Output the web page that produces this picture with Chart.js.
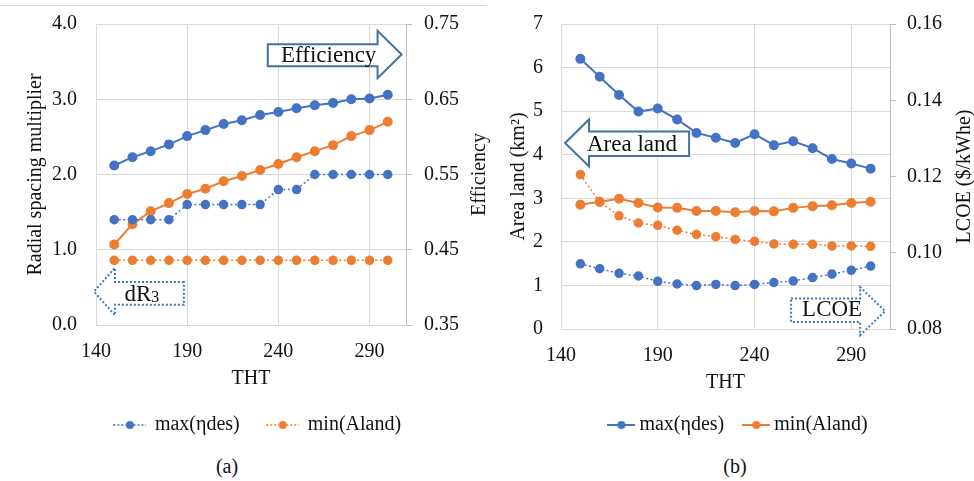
<!DOCTYPE html>
<html>
<head>
<meta charset="utf-8">
<script src="https://cdn.jsdelivr.net/npm/chart.js@4.4.0/dist/chart.umd.min.js"></script>
<style>
body{margin:0;background:#fff;width:974px;height:481px;overflow:hidden;position:relative;font-family:"Liberation Serif","Times New Roman",serif;}
#wa{position:absolute;left:0;top:0;}
#wb{position:absolute;left:492px;top:0;}
.cap{position:absolute;top:454px;width:60px;font-size:20px;line-height:24px;color:#111;text-align:center;}
#topline{position:absolute;left:0;top:5px;width:487px;height:1px;background:#d6d6d6;}
</style>
</head>
<body>
<div id="topline"></div>
<canvas id="wa" width="492" height="445"></canvas>
<canvas id="wb" width="482" height="445"></canvas>
<div class="cap" style="left:197px">(a)</div>
<div class="cap" style="left:705px">(b)</div>
<script>
// THT values shared by both panels
const tht = [150,160,170,180,190,200,210,220,230,240,250,260,270,280,290,300];
const thtTicks = [140,190,240,290];

// panel (a)
const spacingMaxEta = [1.4,1.4,1.4,1.4,1.6,1.6,1.6,1.6,1.6,1.8,1.8,2.0,2.0,2.0,2.0,2.0];
const spacingMinLand = [0.86,0.86,0.86,0.86,0.86,0.86,0.86,0.86,0.86,0.86,0.86,0.86,0.86,0.86,0.86,0.86];
const effMaxEta = [0.562,0.573,0.581,0.590,0.601,0.609,0.617,0.622,0.629,0.633,0.638,0.642,0.645,0.650,0.651,0.656];
const effMinLand = [0.457,0.484,0.501,0.512,0.524,0.531,0.541,0.548,0.556,0.564,0.573,0.581,0.589,0.601,0.609,0.620];
const spacingTicks = [0,1,2,3,4];
const effTicks = [0.35,0.45,0.55,0.65,0.75];

// panel (b)
const areaMaxEta = [6.20,5.79,5.37,4.99,5.06,4.81,4.50,4.39,4.27,4.47,4.22,4.31,4.15,3.90,3.80,3.68];
const areaMinLand = [2.85,2.92,2.99,2.89,2.79,2.78,2.71,2.71,2.68,2.71,2.70,2.78,2.82,2.84,2.89,2.92];
const lcoeMaxEta = [0.0971,0.0958,0.0946,0.0939,0.0925,0.0918,0.0914,0.0917,0.0914,0.0917,0.0922,0.0926,0.0935,0.0944,0.0954,0.0965];
const lcoeMinLand = [0.1205,0.1133,0.1097,0.1078,0.1072,0.1059,0.1048,0.1042,0.1035,0.1030,0.1023,0.1022,0.1022,0.1018,0.1018,0.1017];
const areaTicks = [0,1,2,3,4,5,6,7];
const lcoeTicks = [0.08,0.10,0.12,0.14,0.16];

const BLUE = '#4472C4', ORANGE = '#ED7D31';
const GRID = '#d9d9d9', AXIS = '#bfbfbf', TXT = '#111';
const FONT = {family:'"Liberation Serif","Times New Roman",serif', size:20};

function pts(vals){ return vals.map((v,i)=>({x:tht[i], y:v})); }

function series(label, vals, color, axis, dotted){
	return {
		label, data: pts(vals), yAxisID: axis,
		borderColor: color, backgroundColor: color,
		pointBackgroundColor: color, pointBorderColor: color,
		borderWidth: dotted ? 1.5 : 2, borderDash: dotted ? [2,2.5] : [],
		pointRadius: 4, pointHoverRadius: 4, tension: 0
	};
}

function legendImg(color, dotted, w){
	const c = document.createElement('canvas'); c.width = w; c.height = 12;
	const g = c.getContext('2d');
	g.strokeStyle = color; g.lineWidth = dotted ? 1.5 : 2;
	if(dotted) g.setLineDash([2,2]);
	g.beginPath(); g.moveTo(0,6); g.lineTo(w,6); g.stroke();
	g.setLineDash([]); g.fillStyle = color;
	g.beginPath(); g.arc(w/2,6,4,0,Math.PI*2); g.fill();
	return c;
}

// block arrows with a label, placed in axis units
const arrowPlugin = {
	id: 'blockArrows',
	afterDatasetsDraw(chart, args, opts){
		const {ctx, scales:{x, y}} = chart;
		(opts.items||[]).forEach(a=>{
			const X = v=>x.getPixelForValue(v), Y = v=>y.getPixelForValue(v);
			const x0 = X(a.x0), x1 = X(a.x1), xh = X(a.xh);
			const yt = Y(a.yt), yb = Y(a.yb), bt = Y(a.bt), bb = Y(a.bb), ym = (yt+yb)/2;
			ctx.save();
			ctx.beginPath();
			if(a.dir==='right'){
				ctx.moveTo(x0,bt); ctx.lineTo(xh,bt); ctx.lineTo(xh,yt); ctx.lineTo(x1,ym);
				ctx.lineTo(xh,yb); ctx.lineTo(xh,bb); ctx.lineTo(x0,bb);
			} else {
				ctx.moveTo(x1,bt); ctx.lineTo(xh,bt); ctx.lineTo(xh,yt); ctx.lineTo(x0,ym);
				ctx.lineTo(xh,yb); ctx.lineTo(xh,bb); ctx.lineTo(x1,bb);
			}
			ctx.closePath();
			ctx.fillStyle = '#fff'; ctx.fill();
			ctx.lineWidth = 2;
			ctx.strokeStyle = a.dotted ? '#3B78B8' : '#41719C';
			ctx.setLineDash(a.dotted ? [2,2] : []);
			ctx.stroke();
			ctx.setLineDash([]);
			ctx.fillStyle = TXT; ctx.textBaseline = 'middle';
			ctx.font = '23px "Liberation Serif"';
			const tx = X(a.tx), ty = Y(a.ty);
			if(a.sub){
				const w1 = ctx.measureText(a.text).width;
				ctx.font = '16px "Liberation Serif"';
				const w2 = ctx.measureText(a.sub).width;
				const left = tx - (w1+w2)/2;
				ctx.textAlign = 'left';
				ctx.font = '23px "Liberation Serif"'; ctx.fillText(a.text, left, ty);
				ctx.font = '16px "Liberation Serif"'; ctx.fillText(a.sub, left+w1, ty+3);
			} else {
				ctx.textAlign = 'center'; ctx.fillText(a.text, tx, ty);
			}
			ctx.restore();
		});
	}
};

// right axis title, reading bottom to top like the left one
const rightTitlePlugin = {
	id: 'rightTitle',
	afterDraw(chart, args, opts){
		const s = chart.scales.y1, area = chart.chartArea, ctx = chart.ctx;
		ctx.save();
		ctx.translate(s.right - opts.offset, (area.top + area.bottom)/2);
		ctx.rotate(-Math.PI/2);
		ctx.font = '20px "Liberation Serif"'; ctx.fillStyle = TXT;
		ctx.textAlign = 'center'; ctx.textBaseline = 'middle';
		ctx.fillText(opts.text, 0, 0);
		ctx.restore();
	}
};

function fixedTicks(list){ return s=>{ s.ticks = list.map(v=>({value:v})); }; }

function makeChart(id, o){
	const imgs = {};
	o.legendIdx.forEach(i=>{ imgs[i] = legendImg(o.datasets[i].borderColor, o.legendDotted, o.legendW); });
	return new Chart(document.getElementById(id), {
		type: 'line',
		data: { datasets: o.datasets },
		plugins: [arrowPlugin, rightTitlePlugin],
		options: {
			responsive: false, animation: false, devicePixelRatio: 1,
			layout: { padding: { left: o.padLeft, top: 24, right: 0, bottom: 0 } },
			plugins: {
				tooltip: { enabled: false },
				legend: {
					position: 'bottom',
					labels: {
						usePointStyle: true, pointStyleWidth: o.boxW, padding: o.legendPad,
						font: FONT, color: TXT,
						generateLabels: c=>Chart.defaults.plugins.legend.labels.generateLabels(c)
							.filter(it=>o.legendIdx.includes(it.datasetIndex))
							.map(it=>{ it.pointStyle = imgs[it.datasetIndex]; return it; })
					}
				},
				blockArrows: { items: o.arrows },
				rightTitle: { text: o.y1Title, offset: o.y1TitleOff }
			},
			scales: {
				x: {
					type: 'linear', min: 140, max: 310,
					afterBuildTicks: fixedTicks(thtTicks),
					afterFit: s=>{ s.height = 62; },
					grid: { color: GRID, drawTicks: false },
					border: { display: false },
					ticks: { padding: 15, font: FONT, color: TXT },
					title: { display: true, text: 'THT', font: FONT, color: TXT, padding: { top: 0, bottom: -4 } }
				},
				y: {
					position: 'left', min: o.yTicks[0], max: o.yTicks[o.yTicks.length-1],
					afterBuildTicks: fixedTicks(o.yTicks),
					afterFit: s=>{ s.width = o.yW; },
					grid: { color: GRID, drawTicks: true, tickLength: o.yTickLen, tickColor: 'rgba(0,0,0,0)' },
					border: { display: false },
					ticks: { padding: 3, font: FONT, color: TXT, callback: o.yFmt },
					title: { display: true, text: o.yTitle, font: FONT, color: TXT, padding: { top: 0, bottom: 0 } }
				},
				y1: {
					position: 'right', min: o.y1Ticks[0], max: o.y1Ticks[o.y1Ticks.length-1],
					afterBuildTicks: fixedTicks(o.y1Ticks),
					afterFit: s=>{ s.width = o.y1W; },
					grid: { drawOnChartArea: false, color: AXIS, tickLength: 6 },
					border: { display: true, color: AXIS },
					ticks: { padding: o.y1Pad, font: FONT, color: TXT, callback: v=>Number(v).toFixed(2) },
					title: { display: false }
				}
			}
		}
	});
}

makeChart('wa', {
	datasets: [
		series('max(ηdes)', spacingMaxEta, BLUE, 'y', true),
		series('min(Aland)', spacingMinLand, ORANGE, 'y', true),
		series('eff max(ηdes)', effMaxEta, BLUE, 'y1', false),
		series('eff min(Aland)', effMinLand, ORANGE, 'y1', false)
	],
	legendIdx: [0,1], legendDotted: true, legendW: 33, boxW: 30, legendPad: 28,
	padLeft: 24, yW: 72, yTickLen: 16, y1W: 86, y1Pad: 12, y1TitleOff: 12,
	yTicks: spacingTicks, y1Ticks: effTicks,
	yFmt: v=>Number(v).toFixed(1),
	yTitle: 'Radial spacing multiplier', y1Title: 'Efficiency',
	arrows: [
		{dir:'right', x0:234.2, xh:294.4, x1:307.6, yt:3.91, yb:3.28, bt:3.73, bb:3.44, tx:267.6, ty:3.58, text:'Efficiency'},
		{dir:'left', x0:138.9, xh:150.4, x1:188.2, yt:0.76, yb:0.13, bt:0.57, bb:0.27, tx:165.2, ty:0.40, text:'dR', sub:'3', dotted:true}
	]
});

makeChart('wb', {
	datasets: [
		series('max(ηdes)', areaMaxEta, BLUE, 'y', false),
		series('min(Aland)', areaMinLand, ORANGE, 'y', false),
		series('lcoe max(ηdes)', lcoeMaxEta, BLUE, 'y1', true),
		series('lcoe min(Aland)', lcoeMinLand, ORANGE, 'y1', true)
	],
	legendIdx: [0,1], legendDotted: false, legendW: 28, boxW: 16, legendPad: 24,
	padLeft: 15, yW: 54, yTickLen: 15, y1W: 84, y1Pad: 11, y1TitleOff: 9,
	yTicks: areaTicks, y1Ticks: lcoeTicks,
	yFmt: v=>String(v),
	yTitle: 'Area land (km²)', y1Title: 'LCOE ($/kWhe)',
	arrows: [
		{dir:'left', x0:142.1, xh:154.5, x1:206.2, yt:4.81, yb:3.73, bt:4.53, bb:3.97, tx:176.7, ty:4.23, text:'Area land'},
		{dir:'right', x0:258.9, xh:294.6, x1:307.5, yt:0.96, yb:-0.14, bt:0.70, bb:0.16, tx:280.1, ty:0.44, text:'LCOE', dotted:true}
	]
});
</script>
</body>
</html>
